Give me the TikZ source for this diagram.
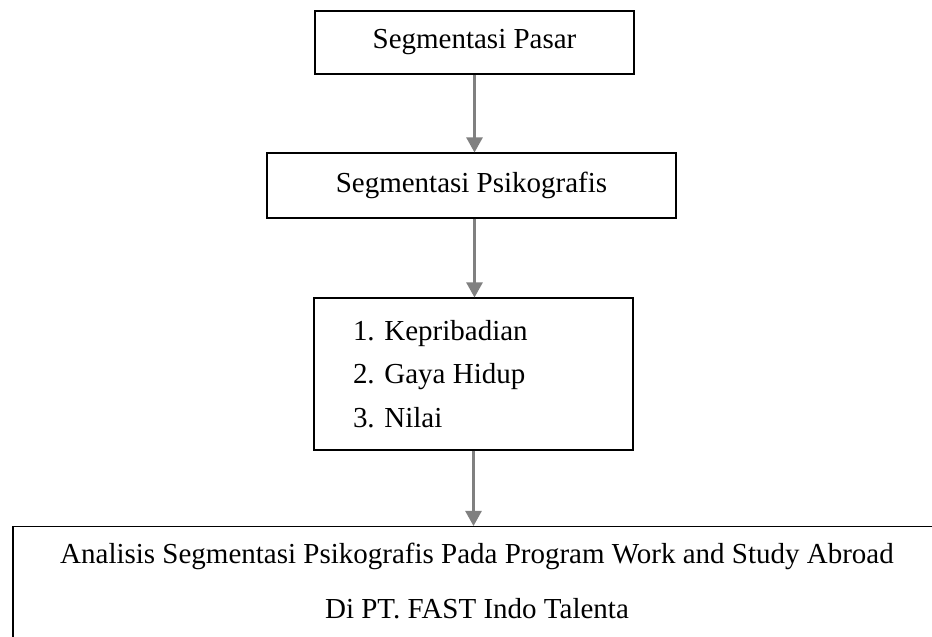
\documentclass[tikz,border=0pt]{standalone}
\usepackage{fontspec}
\setmainfont{Liberation Serif}
\usetikzlibrary{arrows.meta}

\begin{document}
\begin{tikzpicture}[
every node/.style={
draw,
line width=0.6pt,
align=center,
inner sep=0pt,
font=\fontsize{16.5}{24.8}\selectfont
},
panah/.style={
draw=gray,
line width=1.4pt,
-{Triangle[length=0.3cm,width=0.32cm]}
}
]

\clip (0,0) rectangle (18.64,-12.74);

\node[minimum width=6.38cm,minimum height=1.26cm] (1) at (9.49,-0.85)
{Segmentasi Pasar};

\node[minimum width=8.18cm,minimum height=1.3cm] (2) at (9.43,-3.71)
{Segmentasi Psikografis};

\node[align=flush left,text width=4.82cm,inner xsep=0.78cm,minimum height=3.04cm] (3) at (9.47,-7.48)
{1. Kepribadian\\2. Gaya Hidup\\3. Nilai};

\node[anchor=north,minimum width=18.56cm,inner ysep=0.34cm,text depth=0.5cm,
font=\fontsize{16.5}{31.3}\selectfont] (4) at (9.54,-10.52)
{Analisis Segmentasi Psikografis Pada Program Work and Study Abroad\\Di PT. FAST Indo Talenta};

\draw[panah] (1.south) -- (1.south |- 2.north);
\draw[panah] (2.south -| 1.south) -- (3.north -| 1.south);
\draw[panah] (3.south) -- (3.south |- 4.north);

\end{tikzpicture}
\end{document}
